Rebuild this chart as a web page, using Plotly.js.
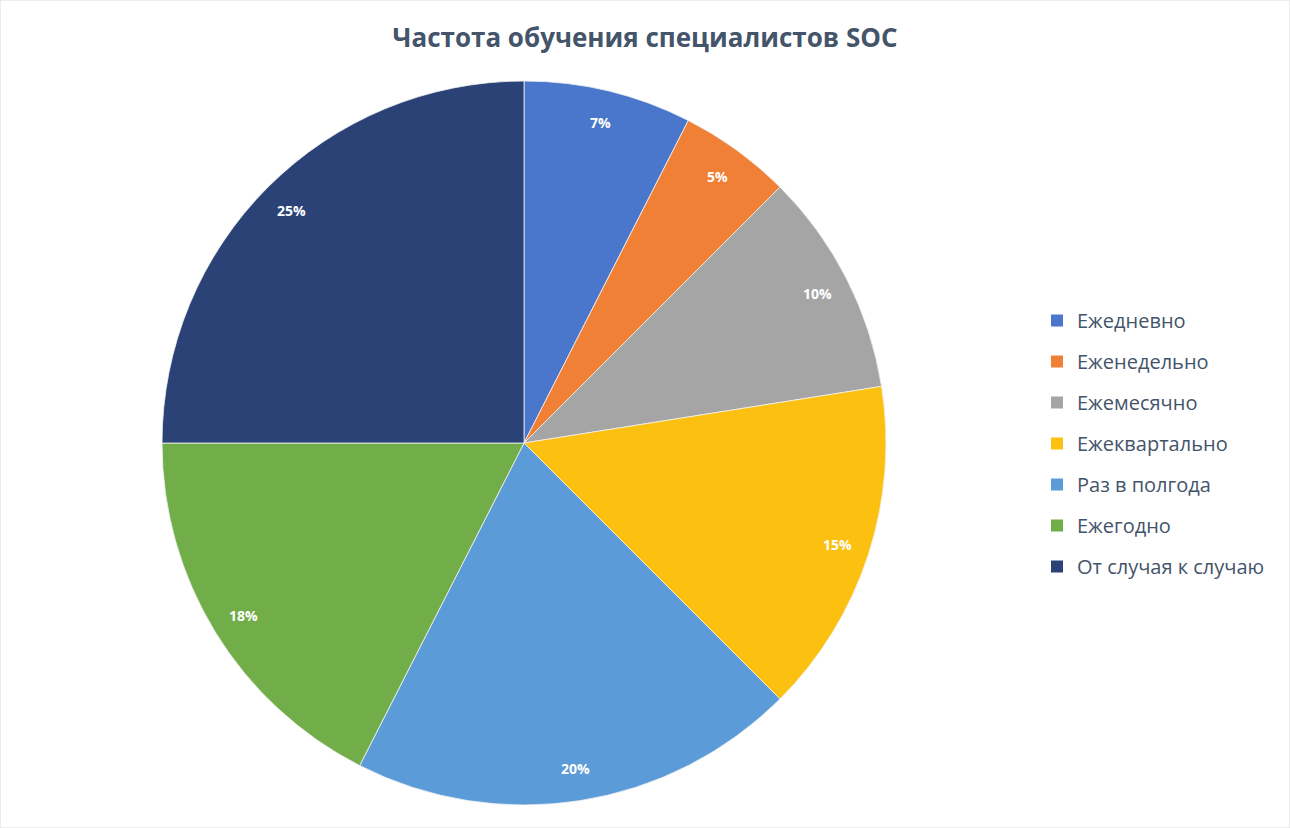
<!DOCTYPE html>
<html>
<head>
<meta charset="utf-8">
<script src="https://cdn.plot.ly/plotly-3.0.1.min.js"></script>
<style>
  html, body { margin: 0; padding: 0; background: #fff; }
  #chart { width: 1290px; height: 828px; }
</style>
</head>
<body>
<div id="chart"></div>
<script>
// Частота обучения специалистов SOC
const categories = ['Ежедневно', 'Еженедельно', 'Ежемесячно', 'Ежеквартально',
                    'Раз в полгода', 'Ежегодно', 'От случая к случаю'];
// slice sizes as measured from the slice angles
const shares = [7.5, 5, 10, 15, 20, 17.5, 25];
// labels as printed on the chart
const shareLabels = ['7%', '5%', '10%', '15%', '20%', '18%', '25%'];
const sliceColors = ['#4a77cc', '#ef8036', '#a5a5a5', '#fcc010',
                     '#5b9bd8', '#71ad48', '#2a4275'];

const W = 1290, H = 828;
const CX = 524, CY = 443, R = 362;
const dom = {
    x: [(CX - R) / W, (CX + R) / W],
    y: [1 - (CY + R) / H, 1 - (CY - R) / H]
};

const pie = {
    type: 'pie',
    labels: categories,
    values: shares,
    sort: false,
    direction: 'clockwise',
    rotation: 0,
    marker: { colors: sliceColors, line: { color: '#f2f2f2', width: 0.8 } },
    textinfo: 'none',
    hoverinfo: 'label+percent',
    showlegend: false,
    domain: dom
};

// legend entries as empty marker traces, so the gap between rows can be set
const legendTraces = categories.map((c, i) => ({
    type: 'scatter', mode: 'markers',
    x: [null], y: [null],
    name: c, legendgroup: 'g' + i,
    marker: { symbol: 'square', size: 12, color: sliceColors[i] },
    hoverinfo: 'skip'
}));

// percent labels near the rim, like the original
const total = shares.reduce((a, b) => a + b, 0);
const annotations = [];
let acc = 0;
shares.forEach((v, i) => {
    const mid = (acc + v / 2) / total;
    acc += v;
    const th = 2 * Math.PI * mid;
    const rr = 0.91 * R;
    annotations.push({
        xref: 'paper', yref: 'paper',
        x: (CX + rr * Math.sin(th)) / W,
        y: 1 - (CY - rr * Math.cos(th)) / H,
        xanchor: 'center', yanchor: 'middle',
        text: '<b>' + shareLabels[i] + '</b>',
        showarrow: false,
        font: { family: 'Open Sans, sans-serif', size: 14, color: '#ffffff' }
    });
});

const layout = {
    width: W, height: H,
    margin: { t: 0, b: 0, l: 0, r: 0 },
    paper_bgcolor: '#ffffff',
    plot_bgcolor: '#ffffff',
    title: {
        text: '<b>Частота обучения специалистов SOC</b>',
        x: 0.5, xanchor: 'center',
        y: 1 - 38 / H, yanchor: 'middle',
        font: { family: 'Open Sans, sans-serif', size: 26, color: '#44546a' }
    },
    xaxis: { visible: false, domain: [0.99, 1] },
    yaxis: { visible: false, domain: [0.99, 1] },
    legend: {
        x: 1037 / W, xanchor: 'left',
        y: 1 - 301 / H, yanchor: 'top',
        font: { family: 'Open Sans, sans-serif', size: 20, color: '#44546a' },
        tracegroupgap: 12,
        itemwidth: 30,
        bgcolor: 'rgba(0,0,0,0)'
    },
    annotations,
    shapes: [{
        type: 'rect', xref: 'paper', yref: 'paper',
        x0: 0, x1: 1, y0: 0, y1: 1,
        line: { color: '#d9d9d9', width: 1 }
    }]
};

Plotly.newPlot('chart', [pie].concat(legendTraces), layout, { displayModeBar: false, staticPlot: true });
</script>
</body>
</html>
